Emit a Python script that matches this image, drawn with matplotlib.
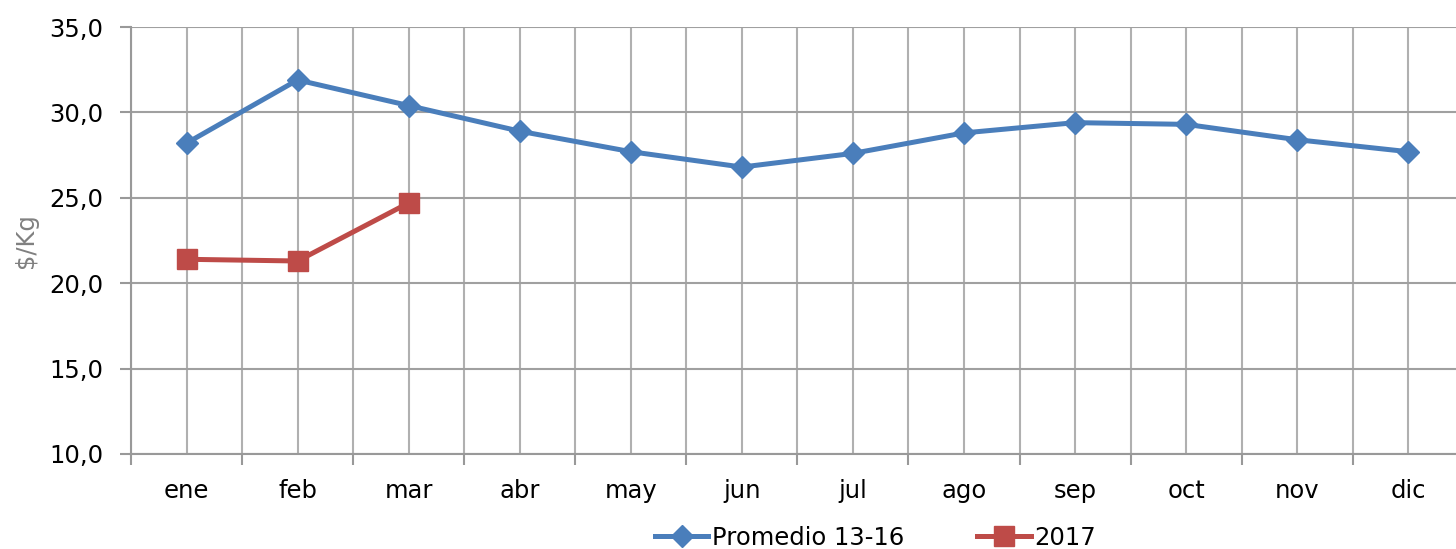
import matplotlib
matplotlib.use("Agg")
import matplotlib.pyplot as plt
from matplotlib.ticker import FixedLocator, NullFormatter

plt.rcParams['font.family'] = ['DejaVu Sans']

months = ['ene', 'feb', 'mar', 'abr', 'may', 'jun',
          'jul', 'ago', 'sep', 'oct', 'nov', 'dic']

# Promedio 13-16
prom = [28.2, 31.9, 30.4, 28.9, 27.7, 26.8,
        27.6, 28.8, 29.4, 29.3, 28.4, 27.7]

# 2017
y2017 = [21.4, 21.3, 24.7]

yticks = [10, 15, 20, 25, 30, 35]

blue = '#4A7EBB'
red = '#BE4B48'
grid = '#B0B0B0'
fs = 17.5

fig = plt.figure(figsize=(14.56, 5.49), dpi=100)
ax = fig.add_axes([131 / 1456, 95 / 549, 1 - 131 / 1456, 427 / 549])

x = list(range(len(months)))
ax.plot(x, prom, color=blue, lw=3.6, marker='D', ms=11, label='Promedio 13-16', zorder=3)
ax.plot(x[:len(y2017)], y2017, color=red, lw=3.6, marker='s', ms=15, label='2017', zorder=4)

ax.set_ylim(10, 35)
ax.set_yticks(yticks)
ax.set_yticklabels([f'{v:.1f}'.replace('.', ',') for v in yticks])
ax.set_xlim(-0.5, 11.43)

ax.set_xticks(x)
ax.set_xticklabels(months)
ax.xaxis.set_minor_locator(FixedLocator([i - 0.5 for i in range(13)]))
ax.xaxis.set_minor_formatter(NullFormatter())
ax.tick_params(axis='x', which='major', length=0, pad=18, labelsize=fs)
ax.tick_params(axis='x', which='minor', length=8, width=1.5, color='#999999')
ax.tick_params(axis='y', length=8, width=1.5, color='#999999', labelsize=fs, pad=12)

ax.grid(True, which='both', axis='x', color=grid, lw=1.5)
ax.grid(True, which='major', axis='y', color='#A0A0A0', lw=1.5)
ax.set_axisbelow(True)

for s in ['top', 'right']:
    ax.spines[s].set_visible(False)
ax.spines['left'].set_color('#999999')
ax.spines['left'].set_linewidth(1.5)
ax.spines['bottom'].set_color('#999999')
ax.spines['bottom'].set_linewidth(1.5)

ax.set_ylabel('$/Kg', fontsize=fs, color='#808080', labelpad=8)

ax.legend(loc='lower center', bbox_to_anchor=(0.562, -0.275), ncol=2, frameon=False,
          fontsize=fs, handlelength=2.2, handletextpad=0.16, columnspacing=3.0)

fig.savefig('out.png', dpi=100)
